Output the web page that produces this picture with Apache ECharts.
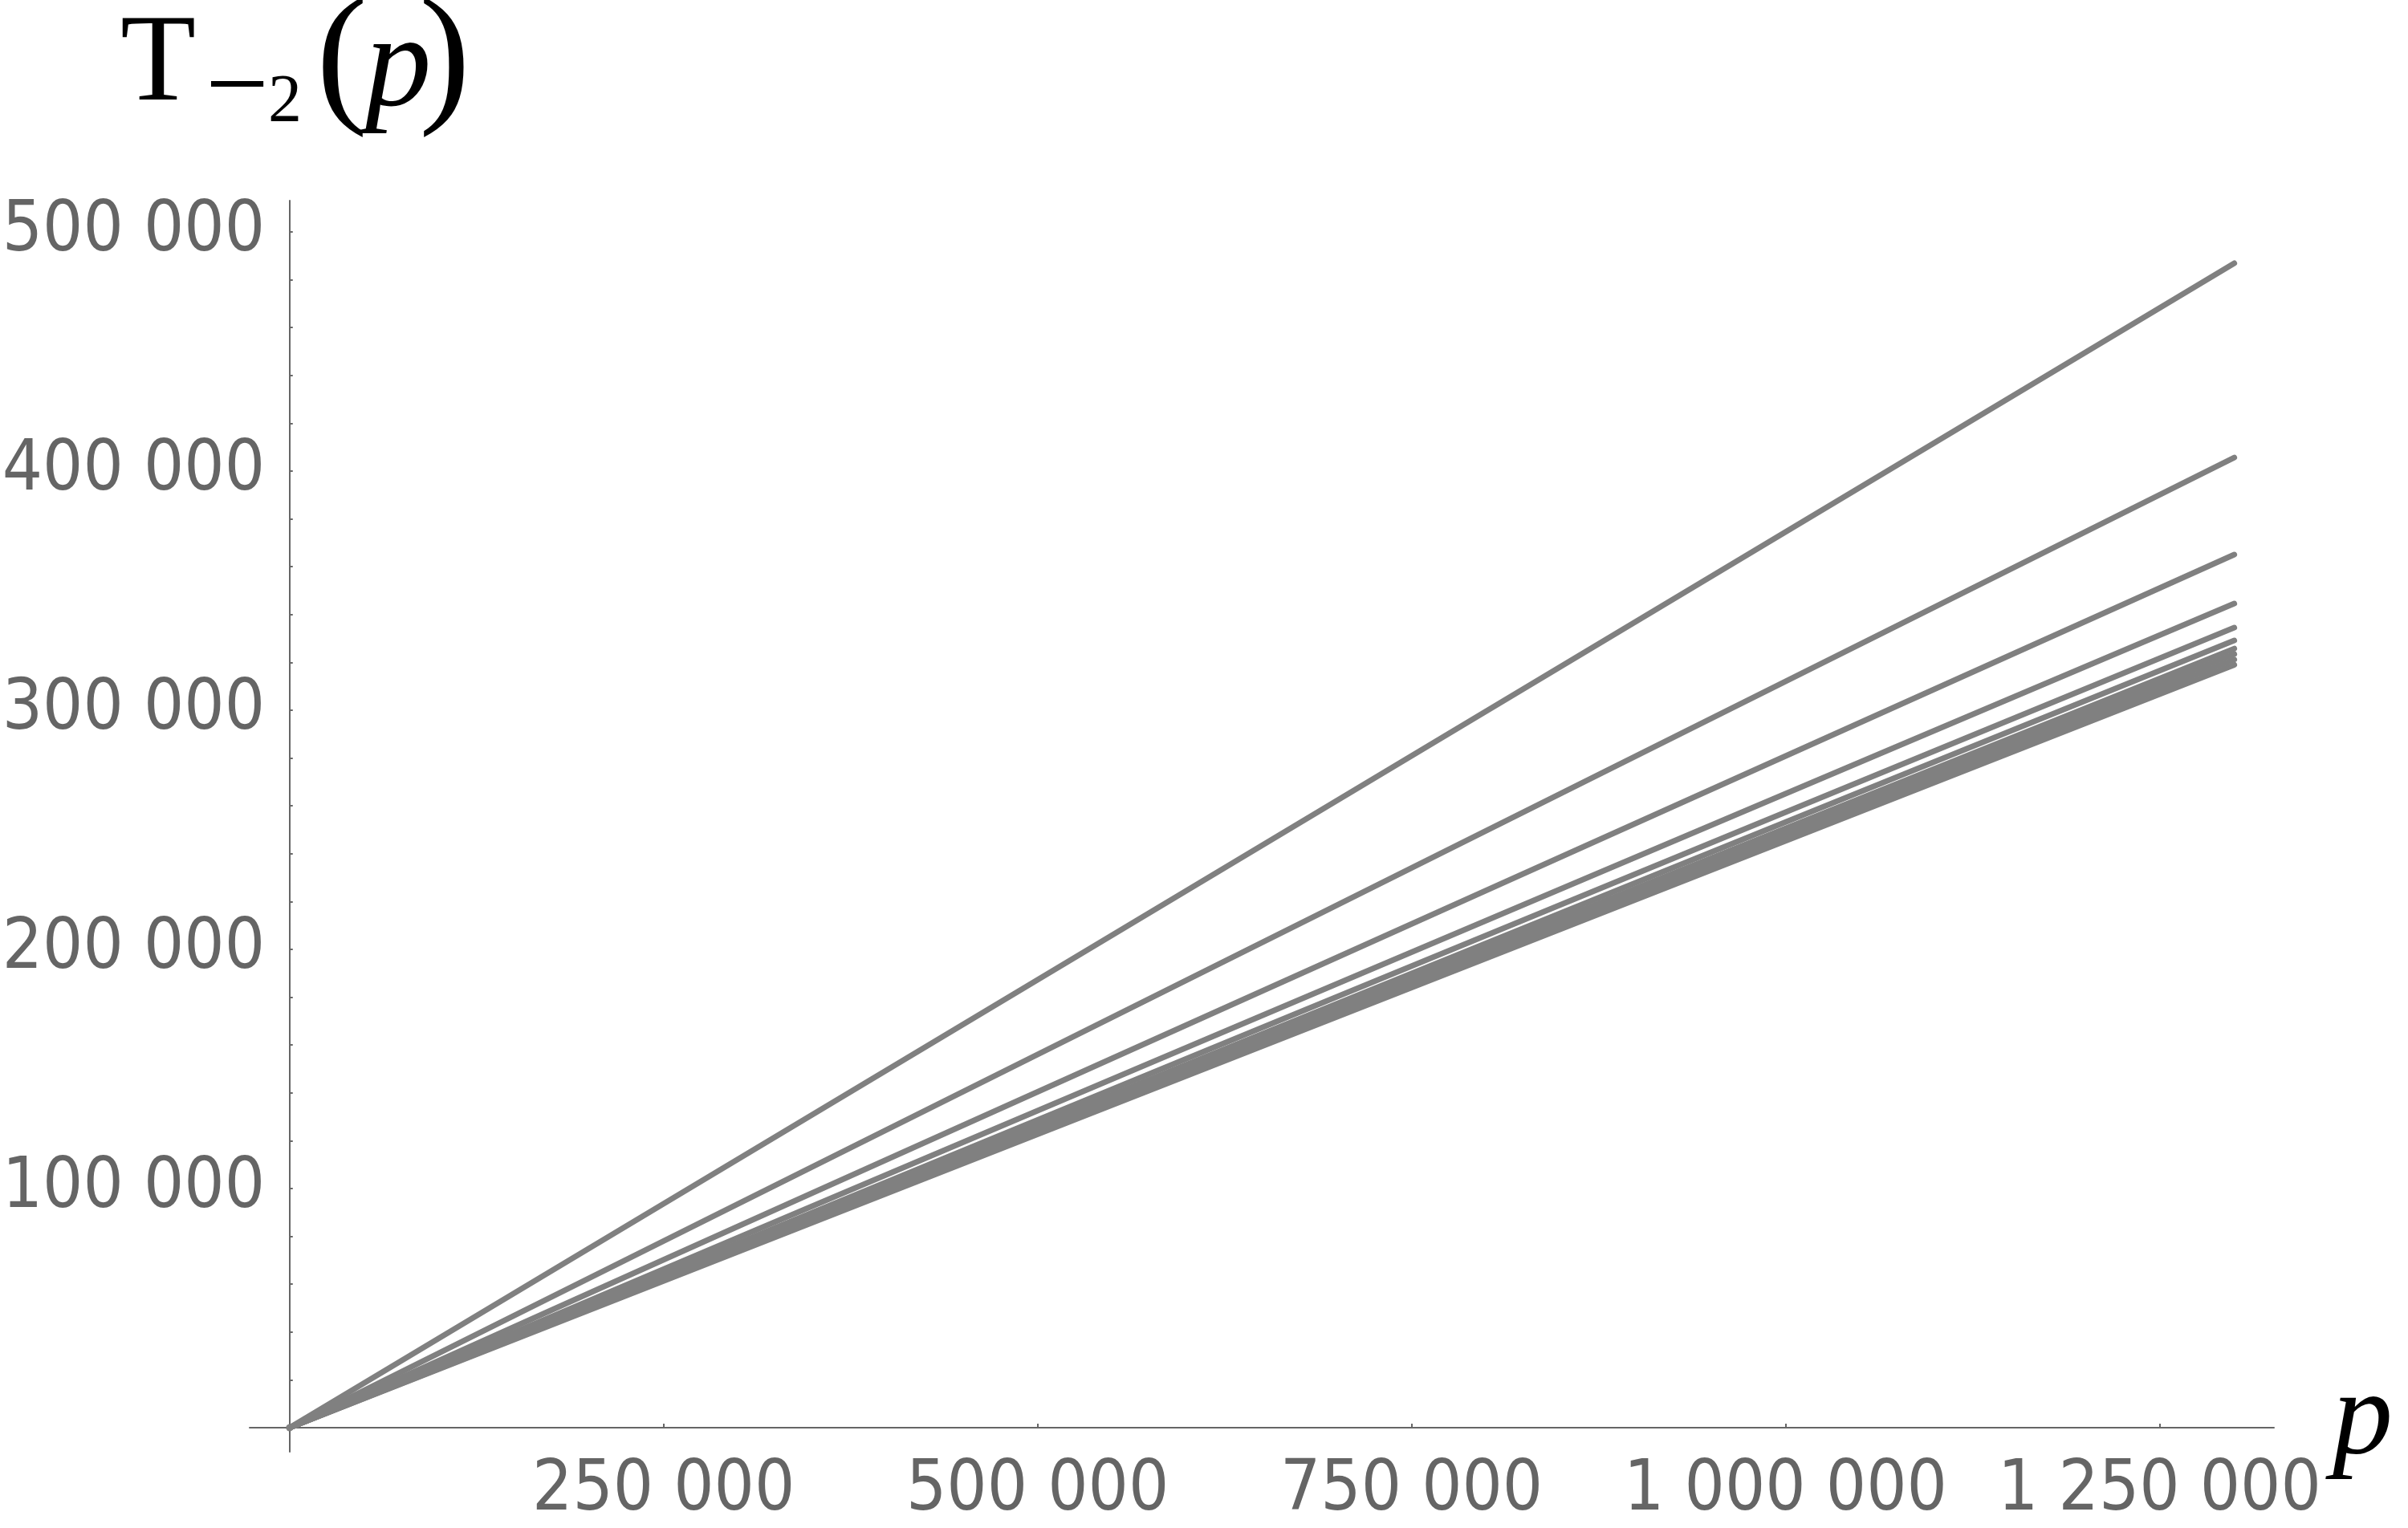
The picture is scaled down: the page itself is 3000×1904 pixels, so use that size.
<!DOCTYPE html>
<html>
<head>
<meta charset="utf-8">
<script src="https://cdn.jsdelivr.net/npm/echarts@6/dist/echarts.min.js"></script>
<style>
  html, body { margin: 0; padding: 0; background: #ffffff; }
  #chart { width: 3000px; height: 1904px; }
</style>
</head>
<body>
<div id="chart"></div>
<script>
// every family is a straight line from the origin; value read at the last prime
var pEnd = 1300000;
var lineEnds = [486950, 405700, 365100, 344630, 334560, 329190];
// the thick noisy band just under the lowest line
var bandEnds = [325800, 323500, 321200, 319000];

// tick positions and labels
var xTicks = [250000, 500000, 750000, 1000000, 1250000];
var yTicks = [100000, 200000, 300000, 400000, 500000];
var yMinor = [20000, 40000, 60000, 80000, 100000, 120000, 140000, 160000, 180000, 200000,
  220000, 240000, 260000, 280000, 300000, 320000, 340000, 360000, 380000, 400000,
  420000, 440000, 460000, 480000, 500000];

var lineColor = "#808080";
var axisColor = "#666666";
var labelColor = "#656565";
var labelFont = "'DejaVu Sans Condensed', 'DejaVu Sans', sans-serif";
var mathFont = "'Liberation Serif', 'DejaVu Serif', serif";

function fmt(v) {
  // space between thousands groups
  return String(v).replace(/\B(?=(\d{3})+(?!\d))/g, " ");
}

var chart = echarts.init(document.getElementById("chart"));

var series = [];
lineEnds.concat(bandEnds).forEach(function (v) {
  series.push({
    type: "line",
    data: [[0, 0], [pEnd, v]],
    showSymbol: false,
    silent: true,
    lineStyle: { color: lineColor, width: 7, cap: "round" }
  });
});
// dot at the origin
series.push({
  type: "scatter",
  data: [[0, 0]],
  symbolSize: 9,
  itemStyle: { color: "#707070" },
  silent: true
});

chart.setOption({
  animation: false,
  backgroundColor: "#ffffff",
  grid: { left: 311, right: 167, top: 250, bottom: 95, containLabel: false, outerBoundsMode: "none" },
  xAxis: {
    type: "value",
    min: -26700,
    max: 1326500,
    axisLine: { onZero: true, lineStyle: { color: axisColor, width: 2 } },
    axisTick: { show: true, inside: true, length: 5, customValues: xTicks,
      lineStyle: { color: axisColor, width: 2 } },
    axisLabel: {
      customValues: xTicks,
      formatter: fmt,
      margin: 5,
      color: labelColor,
      fontSize: 88,
      fontFamily: labelFont
    },
    splitLine: { show: false }
  },
  yAxis: {
    type: "value",
    min: -10070,
    max: 513100,
    axisLine: { onZero: true, lineStyle: { color: axisColor, width: 2 } },
    axisTick: { show: true, inside: true, length: 4, customValues: yMinor,
      lineStyle: { color: axisColor, width: 2 } },
    axisLabel: {
      customValues: yTicks,
      formatter: fmt,
      // labels are placed from the grid edge, the axis line sits 50px further in
      margin: -19,
      padding: [14, 0, 0, 0],
      color: labelColor,
      fontSize: 88,
      fontFamily: labelFont
    },
    splitLine: { show: false }
  },
  graphic: [
    { type: "text", x: 150, y: 84, style: { text: "T", font: "154px " + mathFont, fill: "#000", verticalAlign: "middle" } },
    { type: "text", x: 256, y: 114, style: { text: "\u2212", font: "140px " + mathFont, fill: "#000", verticalAlign: "middle" } },
    { type: "text", x: 334, y: 129, style: { text: "2", font: "84px " + mathFont, fill: "#000", verticalAlign: "middle" } },
    { type: "text", x: 394, y: 80, style: { text: "(", font: "192px " + mathFont, fill: "#000", verticalAlign: "middle" } },
    { type: "text", x: 455, y: 88, style: { text: "p", font: "italic 165px " + mathFont, fill: "#000", verticalAlign: "middle" } },
    { type: "text", x: 522, y: 80, style: { text: ")", font: "192px " + mathFont, fill: "#000", verticalAlign: "middle" } },
    { type: "text", x: 2906, y: 1772, style: { text: "p", font: "italic 150px " + mathFont, fill: "#000", verticalAlign: "middle" } }
  ],
  series: series
});
</script>
</body>
</html>
